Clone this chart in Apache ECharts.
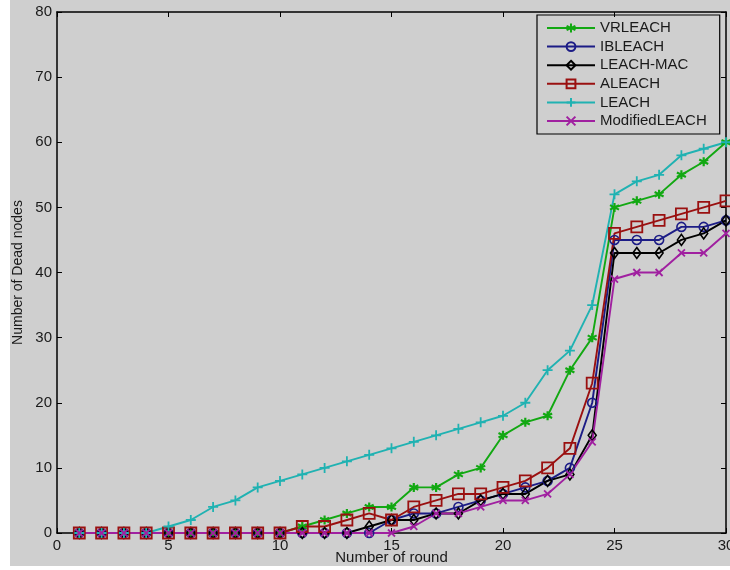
<!DOCTYPE html>
<html>
<head>
<meta charset="utf-8">
<script src="https://cdn.jsdelivr.net/npm/echarts@6/dist/echarts.min.js"></script>
<style>
html,body{margin:0;padding:0;background:#ffffff;}
#c{width:730px;height:570px;}
</style>
</head>
<body>
<div id="c"></div>
<script>
const rounds = [1,2,3,4,5,6,7,8,9,10,11,12,13,14,15,16,17,18,19,20,21,22,23,24,25,26,27,28,29,30];
const seriesNames = ['VRLEACH','IBLEACH','LEACH-MAC','ALEACH','LEACH','ModifiedLEACH'];
const vrleach   = [0,0,0,0,0,0,0,0,0,0,1,2,3,4,4,7,7,9,10,15,17,18,25,30,50,51,52,55,57,60];
const ibleach   = [0,0,0,0,0,0,0,0,0,0,0,0,0,0,2,3,3,4,5,6,7,8,10,20,45,45,45,47,47,48];
const leachMac  = [0,0,0,0,0,0,0,0,0,0,0,0,0,1,2,2,3,3,5,6,6,8,9,15,43,43,43,45,46,48];
const aleach    = [0,0,0,0,0,0,0,0,0,0,1,1,2,3,2,4,5,6,6,7,8,10,13,23,46,47,48,49,50,51];
const leach     = [0,0,0,0,1,2,4,5,7,8,9,10,11,12,13,14,15,16,17,18,20,25,28,35,52,54,55,58,59,60];
const modLeach  = [0,0,0,0,0,0,0,0,0,0,0,0,0,0,0,1,3,3,4,5,5,6,9,14,39,40,40,43,43,46];
const xTicks = [0,5,10,15,20,25,30];
const yTicks = [0,10,20,30,40,50,60,70,80];

const values = [vrleach, ibleach, leachMac, aleach, leach, modLeach];
const colors = ['#12a812','#1c1c86','#000000','#9a1010','#20b2b2','#a020a0'];
const symbols = [
  'path://M5,0L5,10M0.7,2.5L9.3,7.5M0.7,7.5L9.3,2.5',
  'circle',
  'diamond',
  'rect',
  'path://M5,0L5,10M0,5L10,5',
  'path://M0,0L10,10M0,10L10,0'
];
const sizes = [9,9,[8,11],11,10,7];
const fills = ['#12a812','rgba(0,0,0,0)','rgba(0,0,0,0)','rgba(0,0,0,0)','#20b2b2','#a020a0'];
const bw = [2.2,1.6,1.6,1.8,1.8,1.8];

const chart = echarts.init(document.getElementById('c'), null, {renderer:'canvas'});
const font = 'Liberation Sans, Arial, sans-serif';

const series = seriesNames.map((name,i)=>({
  name: name,
  type: 'line',
  data: rounds.map((r,k)=>[r, values[i][k]]),
  symbol: symbols[i],
  symbolSize: sizes[i],
  showAllSymbol: true,
  animation: false,
  lineStyle: {color: colors[i], width: 1.9},
  itemStyle: {color: fills[i], borderColor: colors[i], borderWidth: bw[i]},
  emphasis: {disabled: true},
  xAxisIndex: 0,
  yAxisIndex: 0
}));

const axisCommon = {
  type: 'value',
  axisLine: {show: true, onZero: false, lineStyle: {color: '#000', width: 1.5}},
  axisTick: {show: true, inside: true, length: 5, lineStyle: {color: '#000', width: 1}},
  splitLine: {show: false}
};

chart.setOption({
  animation: false,
  backgroundColor: 'transparent',
  graphic: [{
    type: 'rect', z: -10, silent: true,
    shape: {x: 10, y: 0, width: 720, height: 566},
    style: {fill: '#cfcfcf'}
  }],
  grid: {left: 57, right: 4, top: 12, bottom: 37, containLabel: false, outerBoundsMode: 'none'},
  xAxis: [
    Object.assign({}, axisCommon, {
      min: 0, max: 30, interval: 5, position: 'bottom',
      name: 'Number of round', nameLocation: 'middle', nameGap: 17, nameMoveOverlap: false,
      nameTextStyle: {color: '#1a1a1a', fontSize: 15, fontFamily: font, verticalAlign: 'top'},
      axisLabel: {color: '#1a1a1a', fontSize: 15, fontFamily: font, margin: 5,
        formatter: v => xTicks.includes(v) ? String(v) : ''}
    }),
    Object.assign({}, axisCommon, {
      min: 0, max: 30, interval: 5, position: 'top', axisLabel: {show: false}
    })
  ],
  yAxis: [
    Object.assign({}, axisCommon, {
      min: 0, max: 80, interval: 10, position: 'left',
      name: 'Number of Dead nodes', nameLocation: 'middle', nameGap: 32, nameRotate: 90, nameMoveOverlap: false,
      nameTextStyle: {color: '#1a1a1a', fontSize: 14, fontFamily: font},
      axisLabel: {color: '#1a1a1a', fontSize: 15, fontFamily: font, margin: 5,
        formatter: v => yTicks.includes(v) ? String(v) : ''}
    }),
    Object.assign({}, axisCommon, {
      min: 0, max: 80, interval: 10, position: 'right', axisLabel: {show: false}
    })
  ],
  legend: {
    orient: 'vertical',
    left: 537, top: 15,
    padding: [5.5, 13, 5.5, 9],
    itemWidth: 48, itemHeight: 11, itemGap: 3.6,
    borderColor: '#000', borderWidth: 1.2,
    backgroundColor: 'transparent',
    textStyle: {color: '#1a1a1a', fontSize: 15, fontFamily: font, padding: [0,0,0,0]},
    data: seriesNames
  },
  series: series
});
</script>
</body>
</html>
